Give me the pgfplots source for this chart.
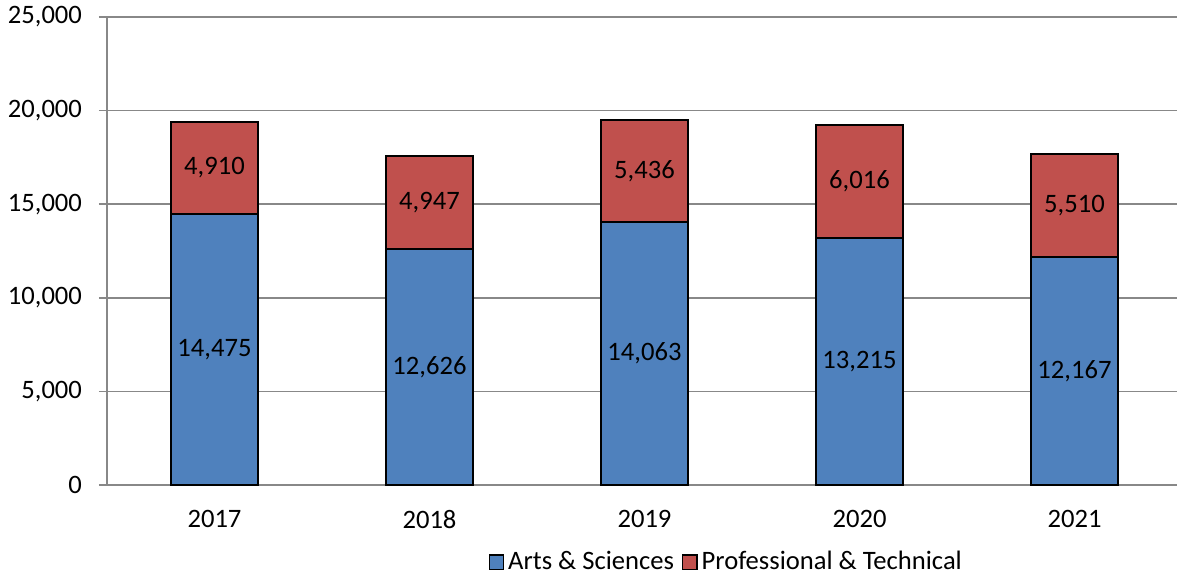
\documentclass[border=0pt]{standalone}
\usepackage{pgfplots}
\pgfplotsset{compat=1.18}
\usepackage{pgfplotstable}
\usepackage{fontspec}
\setmainfont{Carlito}

\definecolor{asblue}{HTML}{4F81BD}
\definecolor{ptred}{HTML}{C0504D}
\definecolor{gridgray}{HTML}{888888}

% enrolment by year: arts & sciences, professional & technical
\pgfplotstableread{
x year as pt
0.5 2017 14475 4910
1.5 2018 12626 4947
2.5 2019 14063 5436
3.5 2020 13215 6016
4.5 2021 12167 5510
}\enroll

\begin{document}
\begin{tikzpicture}
\useasboundingbox (-53.5pt,-45.5pt) rectangle (535pt,242.5pt);
\begin{axis}[
    anchor=south west, at={(0,0)},
    scale only axis,
    width=537.5pt, height=234pt,
    ybar stacked,
    bar width=0.405,
    xmin=0, xmax=5,
    ymin=0, ymax=25000,
    ytick={0,5000,...,25000},
    xtick={0.5,1.5,...,4.5},
    xticklabels={2017,2018,2019,2020,2021},
    extra x ticks={0,1,2,3,4},
    extra x tick labels={},
    extra x tick style={major tick length=4pt, grid=none,
        tick style={gridgray, line width=0.8pt}},
    major x tick style={draw=none},
    tick align=outside,
    major tick length=4pt,
    ymajorgrids,
    grid style={gridgray, line width=0.8pt},
    axis x line*=bottom,
    axis y line*=left,
    axis line style={gridgray, line width=0.8pt, -},
    y tick style={gridgray, line width=0.8pt},
    tick label style={font=\fontsize{13.3}{15}\selectfont, /pgf/number format/assume math mode=true},
    yticklabel style={/pgf/number format/fixed, /pgf/number format/1000 sep={,}, xshift=-5pt},
    xticklabel style={yshift=-5pt},
    scaled y ticks=false,
    legend style={at={(0.577,-0.165)}, anchor=center, draw=none,
        legend columns=-1, font=\fontsize{13.3}{15}\selectfont,
        /tikz/every even column/.append style={column sep=2pt},
        inner sep=0pt},
    legend image code/.code={\draw[#1, draw=black, line width=0.6pt] (0pt,-3.6pt) rectangle (7.2pt,3.6pt);},
    nodes near coords,
    every node near coord/.append style={anchor=center, font=\fontsize{13.3}{15}\selectfont},
    /pgf/number format/fixed, /pgf/number format/1000 sep={,},
    /pgf/number format/assume math mode=true,
    clip=false,
]
\addplot[fill=asblue, draw=black, line width=1pt, point meta=explicit]
    table[x=x, y=as, meta=as] {\enroll};
\addplot[fill=ptred, draw=black, line width=1pt, point meta=explicit]
    table[x=x, y=pt, meta=pt] {\enroll};
\legend{Arts \& Sciences, Professional \& Technical}
\end{axis}
\end{tikzpicture}
\end{document}
